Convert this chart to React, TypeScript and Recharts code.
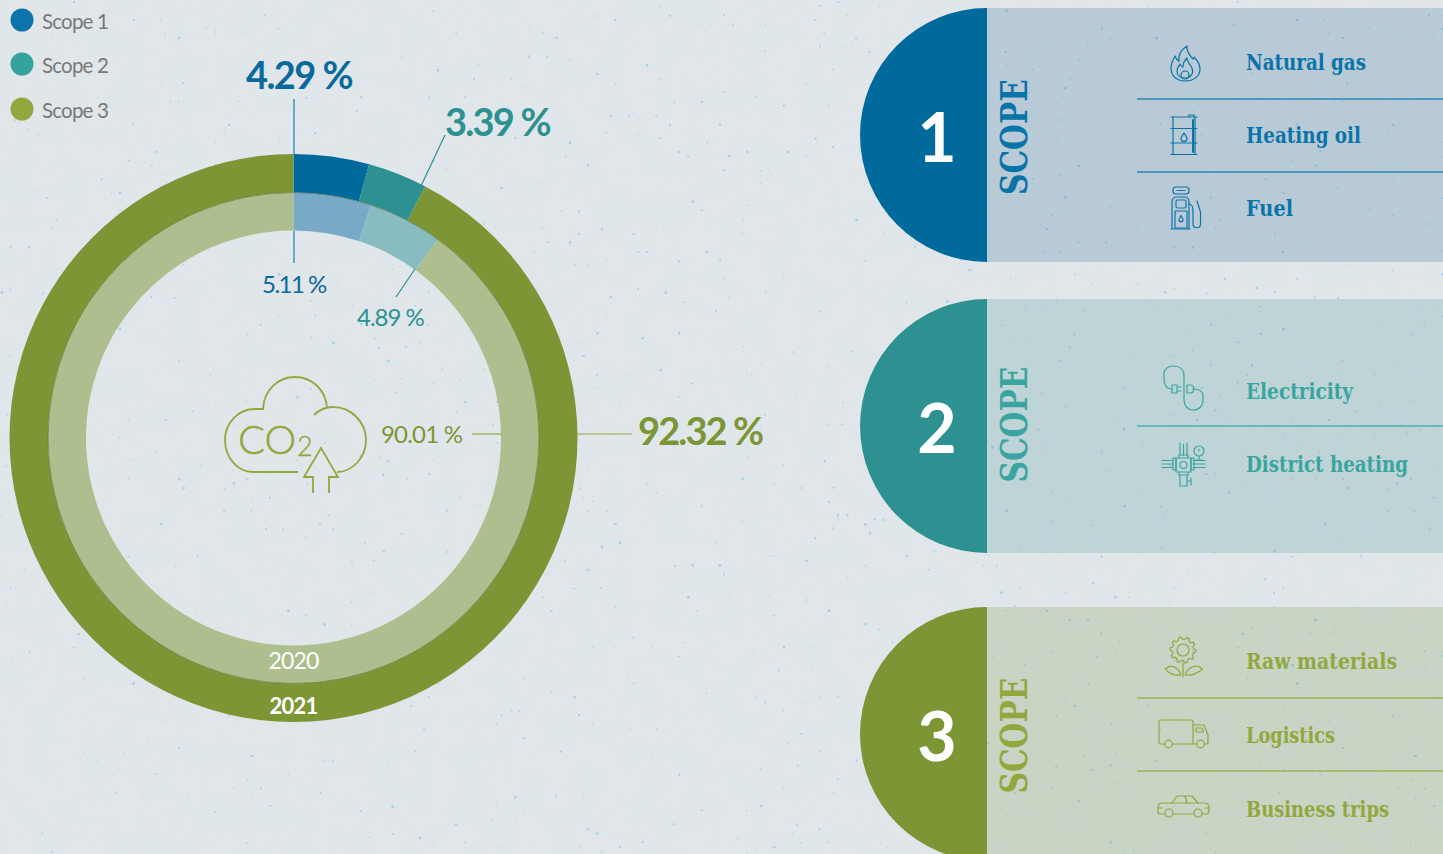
import { PieChart, Pie, Cell } from 'recharts'

const WIDTH = 1443
const HEIGHT = 854

const SCOPE_NAMES = ['Scope 1', 'Scope 2', 'Scope 3']
const SHARE_2021 = [4.29, 3.39, 92.32]
const SHARE_2020 = [5.11, 4.89, 90.01]
const YEARS = ['2020', '2021']

const SCOPE_1_ITEMS = ['Natural gas', 'Heating oil', 'Fuel']
const SCOPE_2_ITEMS = ['Electricity', 'District heating']
const SCOPE_3_ITEMS = ['Raw materials', 'Logistics', 'Business trips']

const RING_2021 = ['#006a9c', '#2d9091', '#7c9636']
const RING_2020 = ['#78a9c6', '#88bcc0', '#aebf8f']
const LEGEND_DOTS = ['#0a74ab', '#34a29e', '#92a83e']

const CX = 293.5
const CY = 438
const LATO = 'Lato, sans-serif'
const SLAB = "'DejaVu Serif', serif"

const pct = (v: number) => `${v.toFixed(2)} %`

const outerData = SCOPE_NAMES.map((name, i) => ({ name, value: SHARE_2021[i] }))
const innerData = SCOPE_NAMES.map((name, i) => ({ name, value: SHARE_2020[i] }))

function FlameIcon() {
  return (
    <g>
      <path d="M1185 81C1176 81 1171 75 1171 68C1171 63 1173 60 1175 56C1176 59 1177 60 1179 61C1178 55 1181 50 1187 46C1186 51 1189 54 1192 58C1193 59 1194 60 1194 57C1197 60 1200 64 1200 69C1200 76 1194 81 1185 81Z" />
      <path d="M1185 78C1180 78 1177 75 1177 71C1177 68 1179 66 1180 64C1181 66 1182 67 1183 67C1183 63 1185 60 1187 58C1187 62 1190 64 1192 68C1194 73 1191 78 1185 78Z" />
      <circle cx={1185} cy={75} r={4} />
    </g>
  )
}

function BarrelIcon() {
  return (
    <g>
      <path d="M1171 117H1197M1171 128.5H1197M1171 143H1197M1171 154.5H1197M1173 117V154.5M1195 117V154.5M1189 117V115H1194V117" />
      <path d="M1193 120V152" strokeWidth={2} />
      <path d="M1184 133C1185.5 135.5 1187 137 1187 138.6A3 3 0 0 1 1181 138.6C1181 137 1182.500 135.500 1184 133Z" />
    </g>
  )
}

function PumpIcon() {
  return (
    <g>
      <rect x={1173} y={187} width={16} height={7} rx={3} />
      <path d="M1177 190.500H1185" strokeDasharray="2 1" />
      <path d="M1172 229V202C1172 199 1174 197 1177 197H1184C1187 197 1189 199 1189 202V229ZM1171 229H1190" />
      <rect x={1176} y={200} width={10} height={8} rx={1.5} />
      <rect x={1175} y={211} width={12} height={17} />
      <path d="M1181 215.500C1182 217.500 1183 218.500 1183 219.800A2 2 0 0 1 1179 219.800C1179 218.500 1180 217.500 1181 215.500Z" />
      <path d="M1189 204C1192 204 1193 207 1193 211V224C1193 229 1200.500 229 1200.500 224V212L1197 201" />
    </g>
  )
}

function PlugIcon() {
  return (
    <g>
      <path d="M1172 389C1166 389 1164 384 1164 380V374C1164 369 1168 366 1173 366C1180 366 1184 370 1184 376V400C1184 406 1188 410 1193 410C1199 410 1203 406 1203 400V396C1203 392 1200 389 1193 389" />
      <path d="M1172 385H1177V393H1172ZM1177 387H1181M1177 391H1181" />
      <path d="M1187 385H1190C1195 385 1195 393 1190 393H1187Z" />
    </g>
  )
}

function PipesIcon() {
  return (
    <g>
      <path d="M1180 443V455M1187 443V455M1183.500 444V455" />
      <path d="M1179 455H1188V458H1179ZM1176 458H1191V472H1176ZM1179 472H1188V475H1179Z" />
      <path d="M1162 460.500H1173M1162 467.500H1173M1162 464H1173" />
      <path d="M1193 460.500H1205M1193 467.500H1205M1193 464H1205" />
      <path d="M1173 458H1176V470H1173ZM1191 458H1194V470H1191Z" />
      <path d="M1180 475V486M1187 475V486M1180 486H1187" />
      <circle cx={1183.500} cy={465} r={3.500} />
      <circle cx={1199} cy={451} r={5} />
      <path d="M1199 451V449M1199 456V460M1196 460H1202M1187 481H1191M1191 478V485" />
    </g>
  )
}

function FlowerIcon() {
  const teeth = 10
  const points: string[] = []
  for (let i = 0; i < teeth * 4; i++) {
    const a = (i / (teeth * 4)) * Math.PI * 2
    const r = i % 4 < 2 ? 13 : 10.500
    points.push(`${(1183 + r * Math.cos(a)).toFixed(1)},${(650 + r * Math.sin(a)).toFixed(1)}`)
  }
  return (
    <g>
      <polygon points={points.join(' ')} />
      <circle cx={1183} cy={650} r={6} />
      <path d="M1183 663V677" />
      <path d="M1181 675C1174 676 1168 673 1165.500 669C1171 663 1178 667 1181 675Z" />
      <path d="M1185 675C1192 676 1198 673 1202.500 669C1197 663 1188 667 1185 675Z" />
    </g>
  )
}

function TruckIcon() {
  return (
    <g>
      <path d="M1164 744H1161C1160 744 1159 743 1159 742V722C1159 721 1160 720 1161 720H1191C1192 720 1193 721 1193 722V744H1197" />
      <path d="M1172 744H1193M1193 725H1204L1208 735V742C1208 743 1207 744 1206 744H1205" />
      <path d="M1196 728H1202L1203.500 732H1196Z" />
      <circle cx={1168.500} cy={744} r={3.800} />
      <circle cx={1200.500} cy={744} r={3.800} />
    </g>
  )
}

function CarIcon() {
  return (
    <g>
      <path d="M1164 814H1160C1159 814 1158 813 1158 812V807C1158 805 1160 803 1162 803H1172L1177 796H1192L1198 803H1205C1207 803 1209 805 1209 807V811C1209 813 1208 814 1206 814H1203" />
      <path d="M1174 814H1193M1172 803H1198M1185 796L1187 803M1158 808H1162M1205 808H1209" />
      <circle cx={1169} cy={813} r={4} />
      <circle cx={1198} cy={813} r={4} />
    </g>
  )
}

function CloudIcon() {
  return (
    <g fill="none" stroke="#92a83e" strokeWidth={1.800}>
      <path d="M298 472H253C237 472 225 457 225 440C225 423 238 409 255 409H263C264 390 278 377 295 377C312 377 326 390 327 408" />
      <path d="M314 415C319 410 325 407 333 407C351 407 366 422 366 440C366 458 352 472 337 472" />
      <path d="M313 493V477H304L321 448L338 477H329V493" />
      <text x={238} y={454} fontFamily={LATO} fontWeight={300} fontSize={40} fill="#92a83e" stroke="#92a83e" strokeWidth={0.500}>CO</text>
      <text x={297} y={456} fontFamily={LATO} fontWeight={300} fontSize={27} fill="#92a83e" stroke="#92a83e" strokeWidth={0.400}>2</text>
    </g>
  )
}

interface PanelProps {
  digit: string
  top: number
  color: string
  tint: string
  textColor: string
  scopeY: number
  items: string[]
  itemY: number[]
  itemWidth: number[]
  dividers: number[]
  icons: React.ReactNode
}

function ScopePanel({ digit, top, color, tint, textColor, scopeY, items, itemY, itemWidth, dividers, icons }: PanelProps) {
  const mid = top + 127
  return (
    <g>
      <rect x={987} y={top} width={456} height={254} fill={tint} fillOpacity={0.2} />
      <path d={`M987 ${top}A127 127 0 0 0 987 ${top + 254}Z`} fill={color} />
      <text x={937} y={mid + 27} textAnchor="middle" fontFamily={LATO} fontWeight={700} fontSize={68} fill="#fff">
        {digit}
      </text>
      <text
        transform={`translate(1027 ${scopeY}) rotate(-90)`}
        textAnchor="middle"
        fontFamily={SLAB}
        fontWeight={700}
        fontSize={37}
        textLength={116}
        lengthAdjust="spacingAndGlyphs"
        fill={textColor}
      >
        SCOPE
      </text>
      {dividers.map((y) => (
        <line key={y} x1={1137} x2={1443} y1={y} y2={y} stroke={textColor} strokeOpacity={0.8} strokeWidth={1.300} />
      ))}
      {items.map((item, i) => (
        <text
          key={item}
          x={1246}
          y={itemY[i]}
          fontFamily={SLAB}
          fontWeight={700}
          fontSize={21.500}
          textLength={itemWidth[i]}
          lengthAdjust="spacingAndGlyphs"
          fill={textColor}
        >
          {item}
        </text>
      ))}
      <g fill="none" stroke={textColor} strokeWidth={1.200} strokeLinejoin="round" strokeLinecap="round">
        {icons}
      </g>
    </g>
  )
}

export default function App() {
  return (
    <div style={{ position: 'absolute', left: 0, top: 0, width: WIDTH, height: HEIGHT, overflow: 'hidden', background: '#e0e6e9' }}>
      {/* paper texture and the three scope panels sit under the rings */}
      <svg width={WIDTH} height={HEIGHT} style={{ position: 'absolute', left: 0, top: 0 }}>
        <defs>
          <filter id="specks" x="0" y="0" width="100%" height="100%" colorInterpolationFilters="sRGB">
            <feTurbulence type="fractalNoise" baseFrequency="0.22" numOctaves={1} seed={7} />
            <feColorMatrix
              type="matrix"
              values="0 0 0 0 0.50  0 0 0 0 0.78  0 0 0 0 0.90  18 0 0 0 -13.100"
            />
            <feGaussianBlur stdDeviation={0.5} />
          </filter>
          <filter id="grain" x="0" y="0" width="100%" height="100%">
            <feTurbulence type="fractalNoise" baseFrequency="0.035" numOctaves={3} seed={3} />
            <feColorMatrix
              type="matrix"
              values="0 0 0 0 0.72  0 0 0 0 0.84  0 0 0 0 0.88  1.500 0 0 0 -0.600"
            />
          </filter>
        </defs>
        <rect width={WIDTH} height={HEIGHT} filter="url(#grain)" opacity={0.2} />
        <rect width={WIDTH} height={HEIGHT} filter="url(#specks)" opacity={0.6} />

        <ScopePanel
          digit="1"
          top={8}
          color="#006a9c"
          tint="#1e5a91"
          textColor="#0a74a8"
          scopeY={137}
          items={SCOPE_1_ITEMS}
          itemY={[70, 143, 216]}
          itemWidth={[120, 115, 47]}
          dividers={[99, 172]}
          icons={<><FlameIcon /><BarrelIcon /><PumpIcon /></>}
        />
        <ScopePanel
          digit="2"
          top={299}
          color="#2d9091"
          tint="#378c91"
          textColor="#3aa5a0"
          scopeY={424.5}
          items={SCOPE_2_ITEMS}
          itemY={[399, 472]}
          itemWidth={[107, 162]}
          dividers={[426]}
          icons={<><PlugIcon /><PipesIcon /></>}
        />
        <ScopePanel
          digit="3"
          top={607}
          color="#7c9636"
          tint="#698c32"
          textColor="#92a83e"
          scopeY={735.5}
          items={SCOPE_3_ITEMS}
          itemY={[669, 743, 817]}
          itemWidth={[151, 89, 143]}
          dividers={[698, 771]}
          icons={<><FlowerIcon /><TruckIcon /><CarIcon /></>}
        />
      </svg>

      <div style={{ position: 'absolute', left: 0, top: 0 }}>
        <PieChart width={WIDTH} height={HEIGHT} margin={{ top: 0, right: 0, bottom: 0, left: 0 }}>
          <Pie
            data={outerData}
            dataKey="value"
            nameKey="name"
            cx={CX}
            cy={CY}
            startAngle={90}
            endAngle={-270}
            innerRadius={245.5}
            outerRadius={284}
            stroke="none"
            isAnimationActive={false}
          >
            {outerData.map((d, i) => (
              <Cell key={d.name} fill={RING_2021[i]} />
            ))}
          </Pie>
          <Pie
            data={innerData}
            dataKey="value"
            nameKey="name"
            cx={CX}
            cy={CY}
            startAngle={90}
            endAngle={-270}
            innerRadius={207.5}
            outerRadius={245.5}
            stroke="none"
            isAnimationActive={false}
          >
            {innerData.map((d, i) => (
              <Cell key={d.name} fill={RING_2020[i]} />
            ))}
          </Pie>
        </PieChart>
      </div>

      {/* legend, leader lines and value labels */}
      <svg width={WIDTH} height={HEIGHT} style={{ position: 'absolute', left: 0, top: 0, pointerEvents: 'none' }}>
        <circle cx={CX} cy={CY} r={245.5} fill="none" stroke="#4d5c22" strokeOpacity={0.7} strokeWidth={0.700} />

        {SCOPE_NAMES.map((name, i) => (
          <g key={name}>
            <circle cx={22} cy={[20, 64, 109][i]} r={11.500} fill={LEGEND_DOTS[i]} />
            <text x={42} y={[29, 73, 118][i]} fontFamily={LATO} fontSize={20.500} letterSpacing={-0.800} fill="#77797c">
              {name}
            </text>
          </g>
        ))}

        <g strokeWidth={1.200}>
          <line x1={294} x2={294} y1={99} y2={155} stroke="#1d7ea9" />
          <line x1={294} x2={294} y1={231} y2={263} stroke="#1d7ea9" />
          <line x1={445} y1={135} x2={421} y2={186} stroke="#2d9091" />
          <line x1={415} y1={269} x2={396} y2={297} stroke="#2d9091" />
          <line x1={472} x2={502} y1={434} y2={434} stroke="#92a83e" />
          <line x1={577} x2={632} y1={434} y2={434} stroke="#92a83e" />
        </g>

        <text x={246} y={89} fontFamily={LATO} fontWeight={700} fontSize={38} letterSpacing={-1.600} fill="#0a6a9c">{pct(SHARE_2021[0])}</text>
        <text x={445} y={136} fontFamily={LATO} fontWeight={700} fontSize={38} letterSpacing={-1.800} fill="#2d9091">{pct(SHARE_2021[1])}</text>
        <text x={638} y={445} fontFamily={LATO} fontWeight={700} fontSize={38} letterSpacing={-1.900} fill="#7c9636">{pct(SHARE_2021[2])}</text>

        <text x={262} y={293} fontFamily={LATO} fontSize={24} letterSpacing={-1.500} fill="#0a6a9c">{pct(SHARE_2020[0])}</text>
        <text x={357} y={326} fontFamily={LATO} fontSize={24} letterSpacing={-1} fill="#2d9091">{pct(SHARE_2020[1])}</text>
        <text x={381} y={443} fontFamily={LATO} fontSize={24} letterSpacing={-0.800} fill="#7c9636">{pct(SHARE_2020[2])}</text>

        <text x={293.500} y={669} textAnchor="middle" fontFamily={LATO} fontSize={23} letterSpacing={-0.800} fill="#fff">{YEARS[0]}</text>
        <text x={293.500} y={714} textAnchor="middle" fontFamily={LATO} fontWeight={700} fontSize={22} letterSpacing={-0.700} fill="#fff">{YEARS[1]}</text>

        <CloudIcon />
      </svg>
    </div>
  )
}
